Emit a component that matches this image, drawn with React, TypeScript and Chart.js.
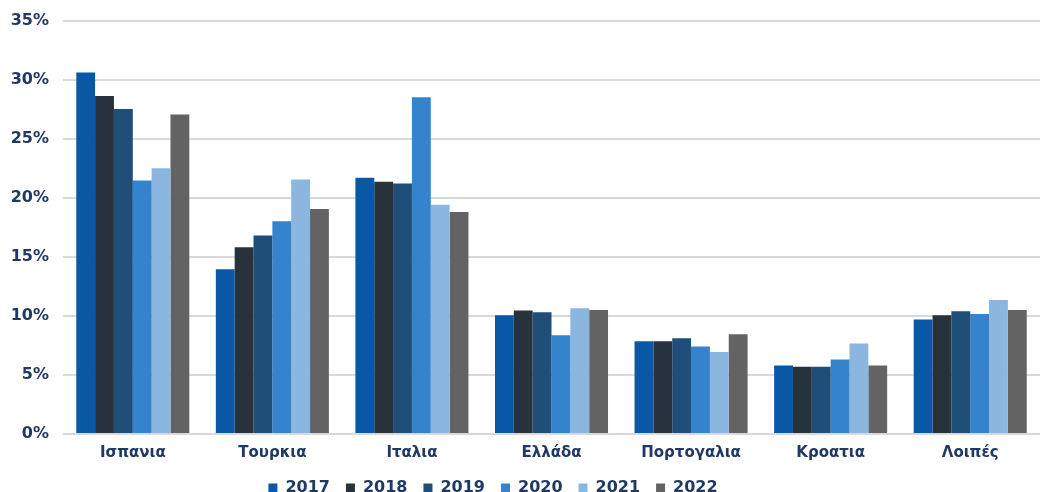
import React, { useEffect, useRef } from "react";
import { Chart, registerables } from "chart.js";

Chart.register(...registerables);

const categories = ["Ισπανια", "Τουρκια", "Ιταλια", "Ελλάδα", "Πορτογαλια", "Κροατια", "Λοιπές"];
const years = ["2017", "2018", "2019", "2020", "2021", "2022"];
const v2017 = [30.6, 13.95, 21.7, 10.05, 7.85, 5.8, 9.7];
const v2018 = [28.6, 15.8, 21.35, 10.45, 7.85, 5.7, 10.05];
const v2019 = [27.5, 16.8, 21.2, 10.3, 8.1, 5.7, 10.4];
const v2020 = [21.45, 18.0, 28.5, 8.35, 7.4, 6.3, 10.15];
const v2021 = [22.5, 21.55, 19.4, 10.65, 6.95, 7.65, 11.35];
const v2022 = [27.05, 19.05, 18.8, 10.5, 8.45, 5.8, 10.5];
const seriesValues = [v2017, v2018, v2019, v2020, v2021, v2022];
const colors = ["#0858A5", "#28323C", "#1F4E79", "#3583CC", "#8BB6E0", "#636363"];
const yTicks = [0, 5, 10, 15, 20, 25, 30, 35];

const TEXT = "#1F3864";
const FONT = "'DejaVu Sans', Verdana, sans-serif";

const legendShift = {
  id: "legendShift",
  afterLayout(chart: any) {
    const lg = chart.legend;
    if (lg) {
      lg.left -= 32;
      lg.right -= 32;
    }
  },
};

export default function App() {
  const ref = useRef<HTMLCanvasElement | null>(null);
  useEffect(() => {
    if (!ref.current) return;
    const chart = new Chart(ref.current, {
      type: "bar",
      data: {
        labels: categories,
        datasets: years.map((y, i) => ({
          label: y,
          data: seriesValues[i],
          backgroundColor: colors[i],
          borderWidth: 0,
          categoryPercentage: 0.81,
          barPercentage: 1,
        })),
      },
      plugins: [legendShift],
      options: {
        responsive: false,
        animation: false,
        layout: { padding: { top: 20.5, right: 2, left: 10, bottom: 0 } },
        plugins: {
          tooltip: { enabled: false },
          legend: {
            position: "bottom",
            labels: {
              boxWidth: 9,
              boxHeight: 9,
              padding: 16,
              color: TEXT,
              font: { family: FONT, size: 16, weight: "bold" },
            },
          },
        },
        scales: {
          x: {
            grid: { display: false },
            border: { display: false },
            ticks: {
              color: TEXT,
              font: { family: FONT, size: 15, weight: "bold" },
              padding: 2,
            },
          },
          y: {
            min: 0,
            max: 35,
            afterBuildTicks: (axis: any) => {
              axis.ticks = yTicks.map((v) => ({ value: v }));
            },
            afterFit: (axis: any) => {
              axis.width = 53;
              axis.paddingTop = 0;
              axis.paddingBottom = 0;
            },
            grid: { color: "#D9D9D9", lineWidth: 2, drawTicks: false },
            border: { display: false },
            ticks: {
              color: TEXT,
              padding: 14,
              font: { family: FONT, size: 16, weight: "bold" },
              callback: (v: any) => `${v}%`,
            },
          },
        },
      },
    });
    return () => chart.destroy();
  }, []);
  return (
    <div style={{ position: "absolute", left: 0, top: 0, width: 1042, height: 492, overflow: "hidden", background: "#fff" }}>
      <canvas ref={ref} width={1042} height={506} style={{ display: "block" }} />
    </div>
  );
}
